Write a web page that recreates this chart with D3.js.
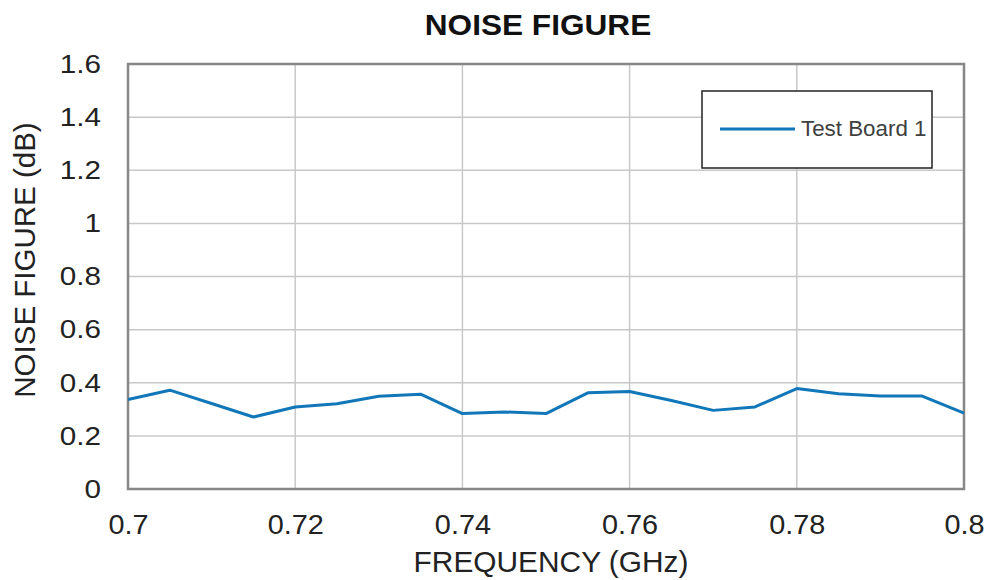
<!DOCTYPE html>
<html>
<head>
<meta charset="utf-8">
<script src="https://cdn.jsdelivr.net/npm/d3@7"></script>
<style>
  html, body { margin: 0; padding: 0; background: #fff; }
  svg { display: block; font-family: "Liberation Sans", Arial, sans-serif; }
</style>
</head>
<body>
<svg id="chart" width="987" height="580"></svg>
<script>
const frequencies = [0.700, 0.705, 0.710, 0.715, 0.720, 0.725, 0.730, 0.735, 0.740, 0.745, 0.750,
                     0.755, 0.760, 0.765, 0.770, 0.775, 0.780, 0.785, 0.790, 0.795, 0.800];
const testBoard1 = [0.337, 0.372, 0.322, 0.271, 0.309, 0.321, 0.349, 0.357, 0.284, 0.290, 0.284,
                    0.362, 0.367, 0.333, 0.296, 0.309, 0.378, 0.359, 0.350, 0.350, 0.286];
const xTicks = [0.70, 0.72, 0.74, 0.76, 0.78, 0.80];
const xTickLabels = ["0.7", "0.72", "0.74", "0.76", "0.78", "0.8"];
const yTicks = [0, 0.2, 0.4, 0.6, 0.8, 1.0, 1.2, 1.4, 1.6];
const yTickLabels = ["0", "0.2", "0.4", "0.6", "0.8", "1", "1.2", "1.4", "1.6"];
const seriesName = "Test Board 1";
const chartTitle = "NOISE FIGURE";
const xTitle = "FREQUENCY (GHz)";
const yTitle = "NOISE FIGURE (dB)";

const svg = d3.select("#chart");
const L = 128, R = 964, T = 64, B = 489;
const x = d3.scaleLinear().domain([0.7, 0.8]).range([L, R]);
const y = d3.scaleLinear().domain([0, 1.6]).range([B, T]);

// grid
const g = svg.append("g");
g.selectAll("line.gx").data(xTicks).enter().append("line")
  .attr("x1", d => x(d)).attr("x2", d => x(d)).attr("y1", T).attr("y2", B)
  .attr("stroke", "#c8c8c8").attr("stroke-width", 1.5);
g.selectAll("line.gy").data(yTicks).enter().append("line")
  .attr("y1", d => y(d)).attr("y2", d => y(d)).attr("x1", L).attr("x2", R)
  .attr("stroke", "#c8c8c8").attr("stroke-width", 1.5);

// frame
svg.append("rect").attr("x", L).attr("y", T).attr("width", R - L).attr("height", B - T)
  .attr("fill", "none").attr("stroke", "#878787").attr("stroke-width", 2.5);

// axes labels via d3 axes
const xAxis = d3.axisBottom(x).tickValues(xTicks).tickFormat((d, i) => xTickLabels[i]).tickSize(0).tickPadding(25);
svg.append("g").attr("transform", `translate(0,${B})`).call(xAxis)
  .call(a => a.select(".domain").remove())
  .selectAll("text").attr("font-size", 28).attr("fill", "#222")
  .attr("font-family", "Liberation Sans, Arial, sans-serif")
  .attr("transform", "scale(1.03,1)");
const yAxis = d3.axisLeft(y).tickValues(yTicks).tickFormat((d, i) => yTickLabels[i]).tickSize(0).tickPadding(0);
svg.append("g").attr("transform", `translate(${L},0)`).call(yAxis)
  .call(a => a.select(".domain").remove())
  .selectAll("text").attr("font-size", 26).attr("fill", "#222")
  .attr("font-family", "Liberation Sans, Arial, sans-serif")
  .attr("x", 0)
  .attr("transform", "translate(-27,0) scale(1.14,1)");

// line
const line = d3.line().x((d, i) => x(frequencies[i])).y(d => y(d));
svg.append("path").datum(testBoard1).attr("d", line)
  .attr("fill", "none").attr("stroke", "#1177b9").attr("stroke-width", 3).attr("stroke-linejoin", "round");

// title
svg.append("text").attr("transform", "translate(538,35) scale(1.09,1)").attr("text-anchor", "middle")
  .attr("font-size", 29).attr("font-weight", "bold").attr("fill", "#111").text(chartTitle);
svg.append("text").attr("transform", "translate(551,572) scale(1.03,1)").attr("text-anchor", "middle")
  .attr("font-size", 29).attr("fill", "#222").text(xTitle);
svg.append("text").attr("transform", "translate(35,260) rotate(-90)").attr("text-anchor", "middle")
  .attr("font-size", 29.5).attr("fill", "#222").text(yTitle);

// legend
const lg = svg.append("g");
lg.append("rect").attr("x", 702).attr("y", 91).attr("width", 230).attr("height", 77)
  .attr("fill", "#fff").attr("stroke", "#222").attr("stroke-width", 1.5);
lg.append("line").attr("x1", 720).attr("x2", 795).attr("y1", 129).attr("y2", 129)
  .attr("stroke", "#1177b9").attr("stroke-width", 3);
lg.append("text").attr("transform", "translate(801,136) scale(1.04,1)").attr("font-size", 21.5).attr("fill", "#404040").text(seriesName);
</script>
</body>
</html>
